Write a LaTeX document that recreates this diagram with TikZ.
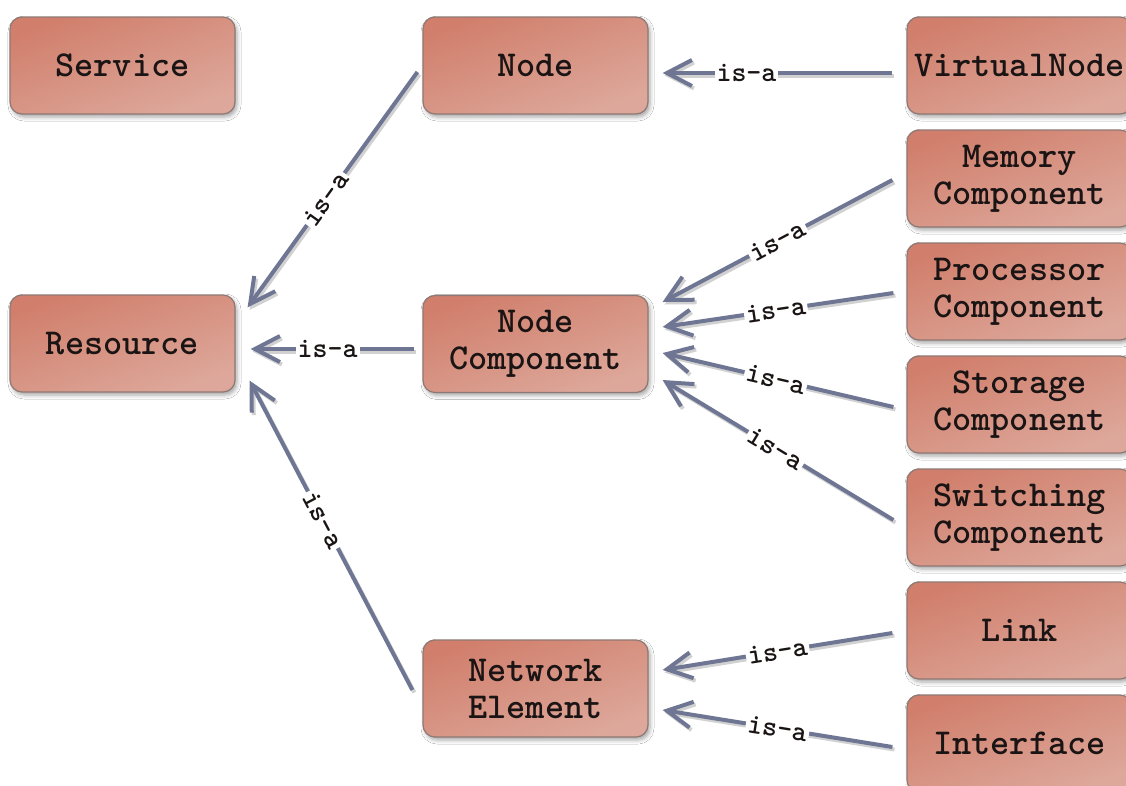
\documentclass[tikz,border=0pt]{standalone}
\usepackage{fontspec}
\usetikzlibrary{arrows.meta,shadows.blur}

\definecolor{boxtop}{HTML}{D17F6C}
\definecolor{boxbot}{HTML}{DDA89B}
\definecolor{boxedge}{HTML}{8E7873}
\definecolor{linkc}{HTML}{6F7693}
\definecolor{txt}{HTML}{1A1414}

\begin{document}
\begin{tikzpicture}[x=1pt,y=-1pt,
  cls/.style={rectangle, rounded corners=12pt, draw=boxedge, line width=1.2pt,
    minimum width=225pt, minimum height=97pt, inner xsep=0pt, inner ysep=0pt,
    align=center, text=txt,
    font=\ttfamily\bfseries\fontsize{36.5}{37}\selectfont,
    top color=boxtop, bottom color=boxbot, shading angle=20,
    blur shadow={shadow xshift=2pt, shadow yshift=-3pt,
                 shadow blur radius=4pt, shadow opacity=35}},
  isa/.style={draw=linkc, line width=4pt,
    -{Straight Barb[length=25pt,width=26pt]},
    preaction={draw=black!18, line width=4pt,
               transform canvas={shift={(2pt,-2.5pt)}}}},
  lbl/.style={sloped, fill=white, inner xsep=2pt, inner ysep=1pt, text=txt,
    font=\ttfamily\bfseries\fontsize{28.5}{28.5}\selectfont}
]
\useasboundingbox (0,0) rectangle (1126,785);
\fill[white] (0,0) rectangle (1126,785);
\clip (0,0) rectangle (1126,785);

% class boxes
\node[cls] (service)   at (122.5,65.5)  {Service};
\node[cls] (resource)  at (122.5,343.5) {Resource};
\node[cls] (node)      at (535.5,65.5)  {Node};
\node[cls] (nodecomp)  at (535.5,344)   {Node\\Component};
\node[cls] (netelem)   at (535.5,688.5) {Network\\Element};
\node[cls] (virtual)   at (1019.5,65.5)  {VirtualNode};
\node[cls] (memory)    at (1019.5,178.5) {Memory\\Component};
\node[cls] (processor) at (1019.5,291.5) {Processor\\Component};
\node[cls] (storage)   at (1019.5,404.5) {Storage\\Component};
\node[cls] (switching) at (1019.5,517.5) {Switching\\Component};
\node[cls] (link)      at (1019.5,630.5) {Link};
\node[cls] (iface)     at (1019.5,743.5) {Interface};

% generalisation links
\draw[isa] ([shift={(-5,6.5)}]node.west) -- node[lbl,pos=0.54] {is-a} ([shift={(12,13)}]resource.north east);
\draw[isa] ([shift={(-8,5)}]nodecomp.west) -- node[lbl,pos=0.53] {is-a} ([shift={(15,5.5)}]resource.east);
\draw[isa] ([shift={(-10,1.5)}]netelem.west) -- node[lbl,pos=0.55] {is-a} ([shift={(14,-12)}]resource.south east);

\draw[isa] ([shift={(-14,7.5)}]virtual.west) -- node[lbl,pos=0.635] {is-a} ([shift={(14,7.5)}]node.east);

\draw[isa] ([shift={(-14,1.5)}]memory.west)    -- node[lbl,pos=0.5] {is-a} ([shift={(14,-42)}]nodecomp.east);
\draw[isa] ([shift={(-13,1.5)}]processor.west) -- node[lbl,pos=0.51] {is-a} ([shift={(14,-17)}]nodecomp.east);
\draw[isa] ([shift={(-13,2.5)}]storage.west)   -- node[lbl,pos=0.51] {is-a} ([shift={(14,9)}]nodecomp.east);
\draw[isa] ([shift={(-13,2.5)}]switching.west) -- node[lbl,pos=0.51] {is-a} ([shift={(14,36)}]nodecomp.east);

\draw[isa] ([shift={(-14,2.5)}]link.west)  -- node[lbl,pos=0.5] {is-a} ([shift={(14,-18.5)}]netelem.east);
\draw[isa] ([shift={(-14,3.5)}]iface.west) -- node[lbl,pos=0.5] {is-a} ([shift={(14,21.5)}]netelem.east);
\end{tikzpicture}
\end{document}
